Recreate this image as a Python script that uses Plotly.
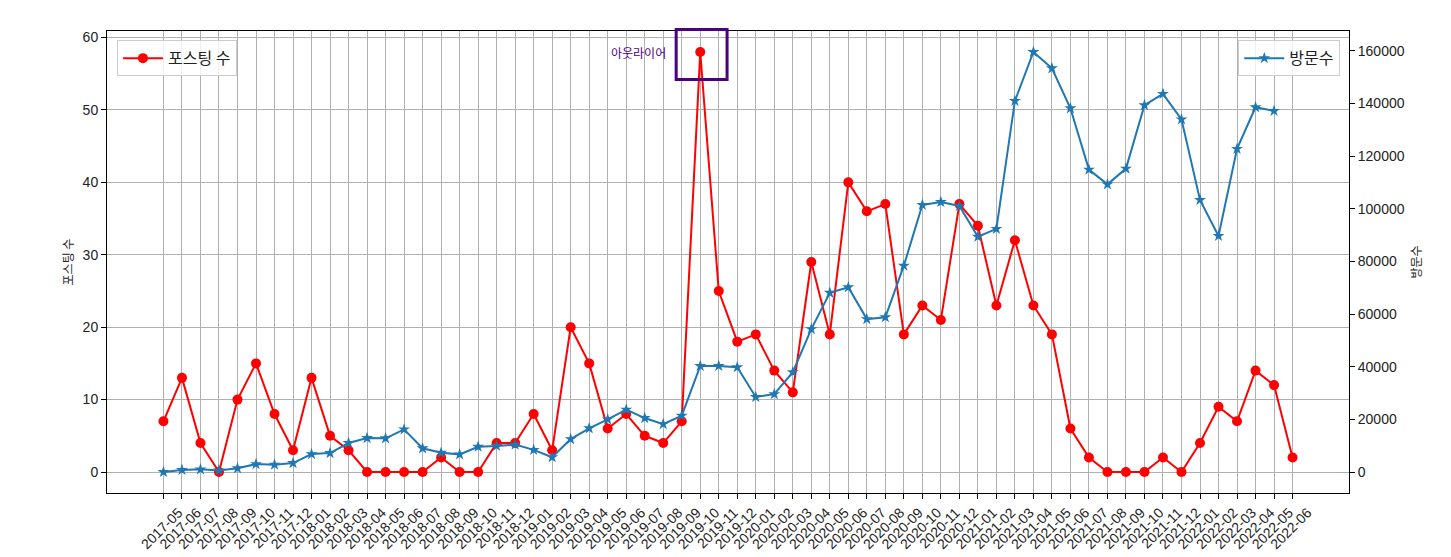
import plotly.graph_objects as go

months = [
    "2017-05", "2017-06", "2017-07", "2017-08", "2017-09", "2017-10", "2017-11", "2017-12",
    "2018-01", "2018-02", "2018-03", "2018-04", "2018-05", "2018-06", "2018-07", "2018-08",
    "2018-09", "2018-10", "2018-11", "2018-12",
    "2019-01", "2019-02", "2019-03", "2019-04", "2019-05", "2019-06", "2019-07", "2019-08",
    "2019-09", "2019-10", "2019-11", "2019-12",
    "2020-01", "2020-02", "2020-03", "2020-04", "2020-05", "2020-06", "2020-07", "2020-08",
    "2020-09", "2020-10", "2020-11", "2020-12",
    "2021-01", "2021-02", "2021-03", "2021-04", "2021-05", "2021-06", "2021-07", "2021-08",
    "2021-09", "2021-10", "2021-11", "2021-12",
    "2022-01", "2022-02", "2022-03", "2022-04", "2022-05", "2022-06",
]

posts = [7, 13, 4, 0, 10, 15, 8, 3, 13, 5, 3, 0, 0, 0, 0, 2, 0, 0, 4, 4,
         8, 3, 20, 15, 6, 8, 5, 4, 7, 58, 25, 18, 19, 14, 11, 29, 19, 40, 36, 37,
         19, 23, 21, 37, 34, 23, 32, 23, 19, 6, 2, 0, 0, 0, 2, 0, 4, 9, 7, 14, 12, 2]

visits = [0, 800, 1000, 600, 1400, 3000, 2800, 3400, 6800, 7200,
          11000, 12900, 12800, 16200, 9000, 7300, 6700, 9600, 9900, 10400,
          8400, 5600, 12500, 16600, 20000, 23700, 20500, 18200, 21400, 40300,
          40300, 39800, 28500, 29600, 37900, 54300, 68100, 70200, 58100, 58800,
          78400, 101500, 102600, 101100, 89400, 92400, 141000, 159600, 153400, 138200,
          114900, 109300, 115300, 139400, 143700, 134000, 103400, 89700, 122800, 138600,
          137200]

posts_label = "포스팅 수"
visits_label = "방문수"
outlier_text = "아웃라이어"

FONT = "Liberation Sans, Noto Sans CJK KR, sans-serif"
KFONT = "Noto Sans CJK KR, Liberation Sans, sans-serif"

n = len(months)
x_lo, x_hi = -0.05 * (n - 1), (n - 1) * 1.05
y_lo, y_hi = -2.9, 60.9
y2_lo, y2_hi = -7980, 167580

fig = go.Figure()
fig.add_trace(go.Scatter(
    x=months, y=posts, name=posts_label, mode="lines+markers",
    line=dict(color="#ff0000", width=2),
    marker=dict(symbol="circle", size=10, color="#ff0000"),
    legend="legend", yaxis="y", showlegend=True,
))
fig.add_trace(go.Scatter(
    x=months[:len(visits)], y=visits, name=visits_label, mode="lines+markers",
    line=dict(color="#1f77b4", width=2),
    marker=dict(symbol="star", size=9, color="#1f77b4"),
    legend="legend2", yaxis="y2", showlegend=True,
))

# outlier highlight derived from the data
oi = max(range(n), key=lambda i: posts[i])
ov = posts[oi]
def px_(v):
    return (v - x_lo) / (x_hi - x_lo)
def py_(v):
    return (v - y_lo) / (y_hi - y_lo)

fig.add_shape(type="rect", xref="paper", yref="paper",
              x0=px_(oi - 1.3), x1=px_(oi + 1.45),
              y0=py_(ov - 3.8), y1=py_(ov + 3.1),
              line=dict(color="#4b0082", width=3), fillcolor="rgba(0,0,0,0)")
fig.add_annotation(x=oi - 1.75, y=ov, xref="x", yref="y", text=outlier_text,
                   showarrow=False, xanchor="right", yanchor="middle",
                   font=dict(family=KFONT, size=12, color="#4b0082"))

axis_common = dict(
    ticks="outside", ticklen=5, tickwidth=1, tickcolor="black",
    showline=True, linecolor="black", linewidth=1,
    tickfont=dict(family=FONT, size=14, color="#222222"),
    zeroline=False, automargin=False,
)

fig.update_layout(
    width=1451, height=557,
    margin=dict(l=107, r=102, t=31, b=64, autoexpand=False),
    paper_bgcolor="white", plot_bgcolor="white",
    font=dict(family=FONT, size=14, color="#222222"),
    showlegend=True,
    xaxis=dict(
        type="category", range=[x_lo, x_hi], tickangle=-45,
        showgrid=True, gridcolor="#b0b0b0", gridwidth=1, mirror=True,
        ticklabelshift=15,
        **axis_common,
    ),
    yaxis=dict(
        range=[y_lo, y_hi], dtick=10, showgrid=True, gridcolor="#b0b0b0", gridwidth=1,
        title=dict(text=posts_label, font=dict(family=KFONT, size=12, color="#222222"), standoff=6),
        **axis_common,
    ),
    yaxis2=dict(
        range=[y2_lo, y2_hi], dtick=20000, overlaying="y", side="right", showgrid=False,
        tickformat="d",
        title=dict(text=visits_label, font=dict(family=KFONT, size=12, color="#222222"), standoff=8),
        **axis_common,
    ),
    legend=dict(x=0.008, y=0.98, xanchor="left", yanchor="top", visible=True,
                bgcolor="rgba(255,255,255,0.8)", bordercolor="#cccccc", borderwidth=1,
                itemwidth=40,
                font=dict(family=KFONT, size=16, color="#222222")),
    legend2=dict(x=0.993, y=0.98, xanchor="right", yanchor="top", visible=True,
                 bgcolor="rgba(255,255,255,0.8)", bordercolor="#cccccc", borderwidth=1,
                 itemwidth=40,
                 font=dict(family=KFONT, size=16, color="#222222")),
)

fig.write_html("out.html",
               config={"displayModeBar": False},
               post_script="document.body.style.margin='0';document.body.style.overflow='hidden';")
